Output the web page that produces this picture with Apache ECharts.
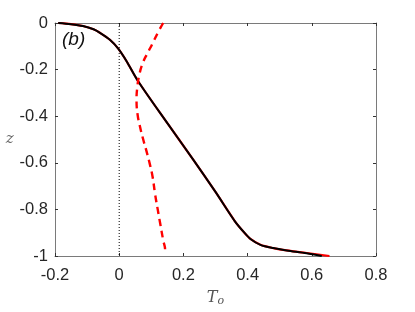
<!DOCTYPE html>
<html><head><meta charset="utf-8">
<script src="https://cdn.jsdelivr.net/npm/echarts@6/dist/echarts.min.js"></script>
<style>html,body{margin:0;padding:0;background:#fff}#c{width:415px;height:312px}</style>
</head><body><div id="c"></div>
<script>
var xTicks = [-0.2, 0, 0.2, 0.4, 0.6, 0.8];
var yTicks = [-1, -0.8, -0.6, -0.4, -0.2, 0];
var blackT = [-0.19,-0.15,-0.113,-0.08,-0.06,-0.029,-0.003,0.023,0.059,0.15,0.23,0.30,0.36,0.39,0.41,0.44,0.48,0.522,0.584,0.631];
var blackZ = [0,-0.005,-0.013,-0.027,-0.042,-0.072,-0.11,-0.164,-0.25,-0.43,-0.585,-0.725,-0.85,-0.9,-0.928,-0.952,-0.966,-0.976,-0.988,-1];
var redT = [-0.19,-0.15,-0.113,-0.08,-0.06,-0.029,-0.003,0.023,0.059,0.15,0.23,0.30,0.36,0.39,0.41,0.44,0.48,0.522,0.584,0.655];
var redZ = [0,-0.005,-0.013,-0.027,-0.042,-0.072,-0.11,-0.164,-0.25,-0.43,-0.585,-0.725,-0.85,-0.9,-0.928,-0.952,-0.966,-0.976,-0.987,-1];
var dashT = [0.137,0.121,0.105,0.088,0.074,0.063,0.056,0.054,0.057,0.064,0.074,0.085,0.096,0.104,0.112,0.12,0.128,0.137,0.143,0.137];
var dashZ = [0,-0.04,-0.085,-0.13,-0.17,-0.22,-0.28,-0.33,-0.39,-0.44,-0.496,-0.55,-0.609,-0.66,-0.736,-0.8,-0.863,-0.932,-0.975,-0.99];
var zeroT = [0, 0];
var zeroZ = [0, -1];
function pairs(a, b){ return a.map(function(v,i){ return [v, b[i]]; }); }
var chart = echarts.init(document.getElementById('c'), null, {renderer:'canvas'});
var axisCol = '#7a7a7a';
var lbl = {color:'#262626', fontSize:16.5, fontFamily:'Liberation Sans, Arial, sans-serif'};
chart.setOption({
  animation:false,
  grid:{left:55, top:23, right:39, bottom:53},
  xAxis:[{
    type:'value', min:xTicks[0], max:xTicks[xTicks.length-1], interval:0.2,
    axisLine:{show:true, onZero:false, lineStyle:{color:axisCol, width:1}},
    axisTick:{show:true, inside:true, length:3, lineStyle:{color:'#333'}},
    axisLabel:Object.assign({margin:11}, lbl),
    splitLine:{show:false},
    name:'{t|T}{s|o}', nameLocation:'middle', nameGap:32,
    nameTextStyle:{rich:{t:{fontFamily:'DejaVu Serif, serif', fontStyle:'italic', fontSize:16, color:'#555'}, s:{fontFamily:'DejaVu Serif, serif', fontStyle:'italic', fontSize:11, color:'#555', padding:[8,0,0,0]}}}
  },{
    type:'value', position:'top', min:xTicks[0], max:xTicks[xTicks.length-1], interval:0.2,
    axisLine:{show:true, onZero:false, lineStyle:{color:axisCol, width:1}},
    axisTick:{show:true, inside:true, length:3, lineStyle:{color:'#333'}},
    axisLabel:{show:false}, splitLine:{show:false}
  }],
  yAxis:[{
    type:'value', min:yTicks[0], max:yTicks[yTicks.length-1], interval:0.2,
    axisLine:{show:true, onZero:false, lineStyle:{color:axisCol, width:1}},
    axisTick:{show:true, inside:true, length:3, lineStyle:{color:'#333'}},
    axisLabel:Object.assign({margin:7}, lbl),
    splitLine:{show:false},
    name:'z', nameLocation:'middle', nameGap:41, nameRotate:0,
    nameTextStyle:{fontFamily:'DejaVu Serif, serif', fontStyle:'italic', fontSize:15, color:'#666'}
  },{
    type:'value', position:'right', min:yTicks[0], max:yTicks[yTicks.length-1], interval:0.2,
    axisLine:{show:true, onZero:false, lineStyle:{color:axisCol, width:1}},
    axisTick:{show:true, inside:true, length:3, lineStyle:{color:'#333'}},
    axisLabel:{show:false}, splitLine:{show:false}
  }],
  graphic:[{type:'text', left:62, top:30, style:{text:'(b)', fontSize:19, fontStyle:'italic', fontFamily:'Liberation Sans, Arial, sans-serif', fill:'#111'}}],
  series:[
    {type:'line', data:pairs(zeroT, zeroZ), symbol:'none', lineStyle:{color:'#000', width:1, type:[1,2]}, z:1},
    {type:'line', data:pairs(redT, redZ), symbol:'none', smooth:0.3, lineStyle:{color:'#ff0000', width:2.2}, z:2},
    {type:'line', data:pairs(blackT, blackZ), symbol:'none', smooth:0.3, lineStyle:{color:'#000', width:2}, z:3},
    {type:'line', data:pairs(dashT, dashZ), symbol:'none', smooth:0.5, lineStyle:{color:'#ff0000', width:2.4, type:[7,5]}, z:4}
  ]
});
</script></body></html>
